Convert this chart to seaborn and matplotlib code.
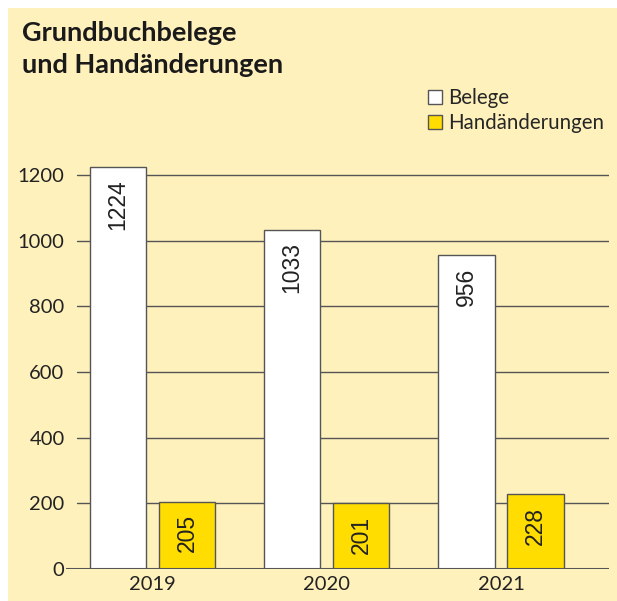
import matplotlib.pyplot as plt
import seaborn as sns
import pandas as pd

years = ['2019', '2020', '2021']
belege = [1224, 1033, 956]
handaenderungen = [205, 201, 228]
series_names = ['Belege', 'Handänderungen']
y_ticks = [0, 200, 400, 600, 800, 1000, 1200]

bg = '#FFF1BC'
yellow = '#FFDD00'
edge = '#555555'

df = pd.DataFrame({
    'Jahr': years * 2,
    'Wert': belege + handaenderungen,
    'Serie': [series_names[0]] * 3 + [series_names[1]] * 3,
})

sns.set_style('white')
plt.rcParams['font.family'] = ['Lato', 'DejaVu Sans']

fig = plt.figure(figsize=(6.17, 6.01), dpi=100)
fig.patch.set_facecolor('white')
# yellow panel behind everything
fig.patches.append(plt.Rectangle((8 / 617, 0), 1, 1 - 8 / 601, transform=fig.transFigure,
                                 facecolor=bg, edgecolor='none', zorder=-10))

ax = fig.add_axes([66 / 617, 1 - 569 / 601, (609 - 66) / 617, (569 - 140) / 601])
ax.set_facecolor('none')

sns.barplot(data=df, x='Jahr', y='Wert', hue='Serie', order=years, hue_order=series_names,
            palette=['white', yellow], saturation=1, width=0.793, gap=0.187,
            edgecolor=edge, linewidth=1, ax=ax, legend=False, zorder=3)

ax.set_xlim(-0.497, 2.62)
ax.set_ylim(0, 1307)
ax.set_yticks(y_ticks)
for t in y_ticks[1:]:
    ax.axhline(t, xmin=11 / 543, xmax=1, color=edge, lw=1, zorder=1)
ax.axhline(0, color=edge, lw=1.5, zorder=4)

for s in ax.spines.values():
    s.set_visible(False)
ax.tick_params(axis='both', length=0, labelsize=14.5, colors='#222222', pad=5)
ax.tick_params(axis='y', pad=1)
ax.set_xlabel('')
ax.set_ylabel('')

for cont in ax.containers:
    for bar in cont:
        ax.annotate(f'{bar.get_height():.0f}', (bar.get_x() + bar.get_width() / 2, bar.get_height()),
                    xytext=(0, -9), textcoords='offset points', rotation=90,
                    ha='center', va='top', fontsize=16.5, color='#222222',
                    family=['Liberation Sans', 'DejaVu Sans'], zorder=5)

fig.text(22 / 617, 1 - 21 / 601, 'Grundbuchbelege\nund Handänderungen', fontsize=19.5,
         fontweight='bold', color='#1a1a1a', va='top', ha='left', linespacing=1.4)

handles = [plt.Rectangle((0, 0), 1, 1, facecolor=c, edgecolor=edge, lw=1) for c in ['white', yellow]]
fig.legend(handles, series_names, loc='upper left', bbox_to_anchor=(428 / 617, 1 - 88 / 601),
           frameon=False, fontsize=14.8, handlelength=0.7, handleheight=0.7, handletextpad=0.3,
           labelspacing=0.25, borderpad=0, borderaxespad=0)

fig.savefig('out.png', dpi=100)
